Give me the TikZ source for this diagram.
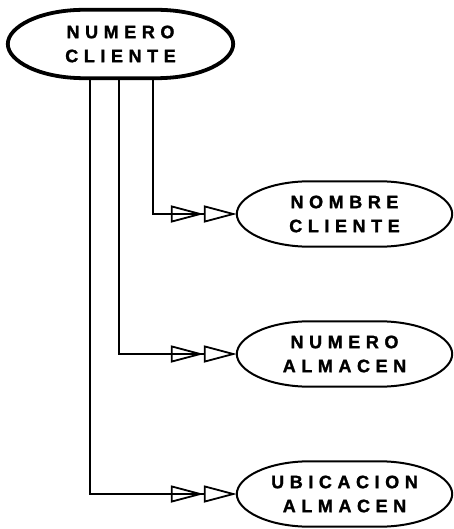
\documentclass[tikz,border=0pt]{standalone}
\usepackage{fontspec}
\setmainfont{Liberation Sans}
\usetikzlibrary{arrows.meta,calc,backgrounds}
\newcommand{\ovaldraw}[2]{%
\draw[#1] (#2.west) .. controls ($(#2.west)!0.5!(#2.north west)$) and ($(#2.north west)!0.14!(#2.north east)$) .. ($(#2.north west)!0.34!(#2.north east)$) -- ($(#2.north west)!0.66!(#2.north east)$) .. controls ($(#2.north west)!0.86!(#2.north east)$) and ($(#2.east)!0.5!(#2.north east)$) .. (#2.east) .. controls ($(#2.east)!0.5!(#2.south east)$) and ($(#2.south west)!0.86!(#2.south east)$) .. ($(#2.south west)!0.66!(#2.south east)$) -- ($(#2.south west)!0.34!(#2.south east)$) .. controls ($(#2.south west)!0.14!(#2.south east)$) and ($(#2.west)!0.5!(#2.south west)$) .. cycle;}
\newfontfamily\lblfont[LetterSpace=31,FakeBold=1.5]{Liberation Sans Bold}
\tikzset{
  box/.style={draw=none, inner sep=0pt, align=center,
    font={\fontsize{18}{24}\selectfont\lblfont}},
  bigbox/.style={box, minimum width=225pt, minimum height=68pt},
  smallbox/.style={box, minimum width=215pt, minimum height=65pt},
  conn/.style={line width=1.6pt, line join=miter,
    -{Triangle[open,length=33pt,width=17pt,line width=1.8pt]Triangle[open,length=33pt,width=17pt,line width=1.8pt]}},
}
\begin{document}
\begin{tikzpicture}[x=1pt,y=-1pt]
\useasboundingbox (0,0) rectangle (454,529);
\node[bigbox] (nc) at (120.5,44) {NUMERO\\CLIENTE};
\node[smallbox] (ncl) at (344.5,214) {NOMBRE\\CLIENTE};
\node[smallbox] (nal) at (344.5,354) {NUMERO\\ALMACEN};
\node[smallbox] (ual) at (344.5,494) {UBICACION\\ALMACEN};
\begin{scope}[on background layer]
\draw[conn] ([xshift=32.5pt]nc.center) |- (ncl.west);
\draw[conn] ([xshift=-1.5pt]nc.center) |- (nal.west);
\draw[conn] ([xshift=-30.5pt]nc.center) |- (ual.west);
\ovaldraw{line width=3.8pt, fill=white}{nc}
\ovaldraw{line width=2pt, fill=white}{ncl}
\ovaldraw{line width=2pt, fill=white}{nal}
\ovaldraw{line width=2pt, fill=white}{ual}
\end{scope}
\end{tikzpicture}
\end{document}
